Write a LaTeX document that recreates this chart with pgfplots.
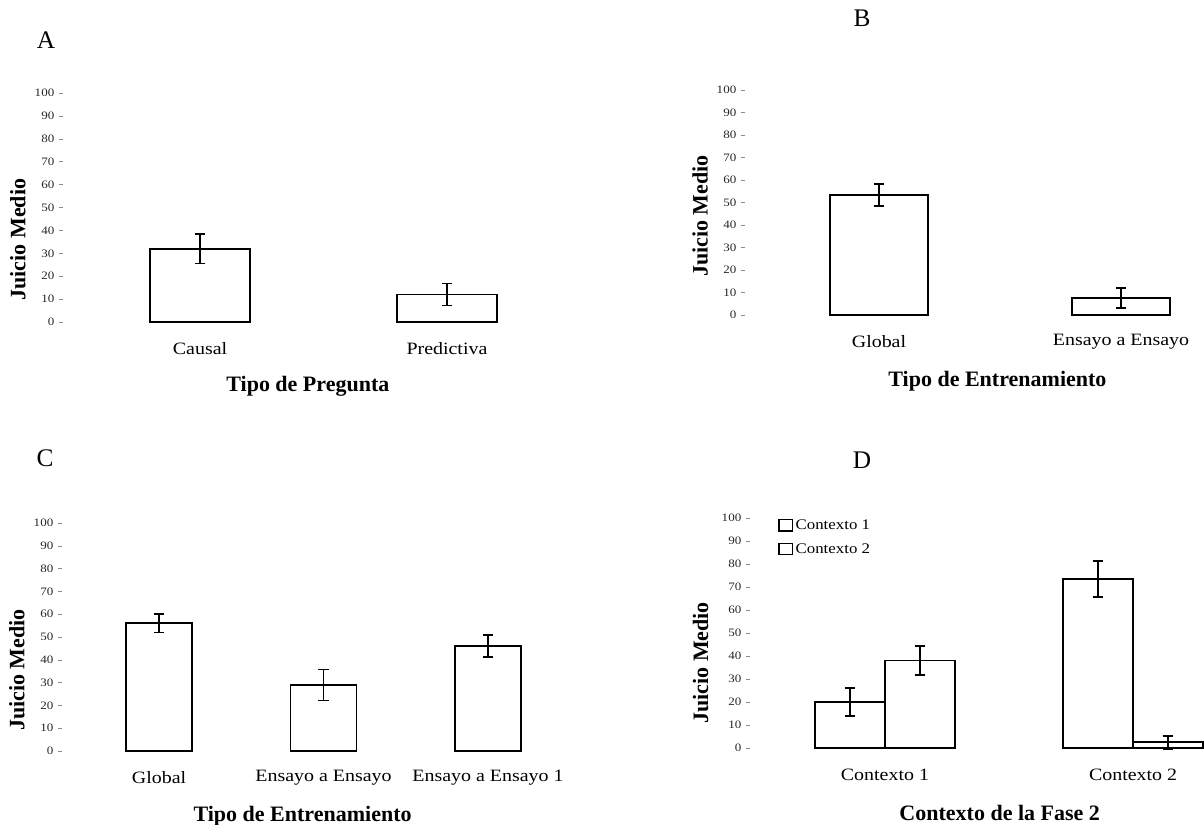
\documentclass[border=0pt]{standalone}
\usepackage{fontspec}
\setmainfont{Liberation Serif}
\newfontfamily\stretchfont[FakeStretch=1.15]{Liberation Serif}
\usepackage{pgfplots}
\pgfplotsset{compat=1.18}
\pgfplotsset{
  panel/.style={
    scale only axis, anchor=south west, clip=false,
    ymin=0, ymax=100, ytick={0,10,...,100},
    axis y line*=left, axis x line*=bottom,
    axis line style={draw=none},
    xtick style={draw=none},
    ytick style={draw=black!45, line width=0.4pt},
    tick align=outside, major tick length=3pt,
    /pgf/number format/assume math mode=true,
    yticklabel style={font=\stretchfont\fontsize{8.5}{9}\selectfont, text=black!85},
    xticklabel style={font=\stretchfont\fontsize{13}{15}\selectfont, anchor=center, yshift=-17pt},
    xlabel style={font=\fontsize{16.5}{18}\selectfont\bfseries, anchor=center},
    ylabel={Juicio Medio},
    ylabel style={font=\fontsize{16.5}{18}\selectfont\bfseries, anchor=center},
    ybar,
  },
  barstyle/.style={draw=black, fill=white, line width=1.3pt,
    /pgfplots/error bars/y dir=both, /pgfplots/error bars/y explicit,
    /pgfplots/error bars/error bar style={line width=1.3pt, black},
    /pgfplots/error bars/error mark options={rotate=90, mark size=4pt, line width=1.3pt, black},
    /pgfplots/legend image code/.code={\draw[black, line width=0.9pt, fill=white] (0pt,-4pt) rectangle (10pt,4.5pt);}},
}
\begin{document}
\begin{tikzpicture}
\path[use as bounding box] (0,0) rectangle (903pt,618.75pt);

% Panel A
\begin{axis}[panel, at={(47.25pt,377.25pt)}, width=390.75pt, height=171.75pt,
  xmin=-0.555, xmax=1.555, bar width=75pt,
  xtick={0,1}, xticklabels={Causal, Predictiva},
  xlabel={Tipo de Pregunta},
  xlabel style={at={(axis description cs:0.47,0)}, yshift=-48pt},
  ylabel style={at={(axis description cs:0,0.36)}, yshift=33.75pt}]
\addplot[barstyle] coordinates {(0,32) +- (0,6.4) (1,12) +- (0,4.8)};
\end{axis}

% Panel B
\begin{axis}[panel, at={(558.75pt,382.5pt)}, width=344.25pt, height=168.75pt,
  xmin=-0.5537, xmax=1.343, bar width=73.5pt,
  xtick={0,1}, xticklabels={Global, Ensayo a Ensayo},
  xlabel={Tipo de Entrenamiento},
  xlabel style={at={(axis description cs:0.55,0)}, yshift=-49.5pt},
  ylabel style={at={(axis description cs:0,0.44)}, yshift=33.75pt}]
\addplot[barstyle] coordinates {(0,53.3) +- (0,4.8) (1,7.6) +- (0,4.5)};
\end{axis}

% Panel C
\begin{axis}[panel, at={(46.5pt,55.5pt)}, width=392.25pt, height=171pt,
  xmin=-0.59, xmax=2.59, bar width=49.5pt,
  xtick={0,1,2}, xticklabels={Global, Ensayo a Ensayo, Ensayo a Ensayo 1},
  xlabel={Tipo de Entrenamiento},
  xlabel style={at={(axis description cs:0.46,0)}, yshift=-48.75pt},
  ylabel style={at={(axis description cs:0,0.355)}, yshift=33.75pt}]
\addplot[barstyle] coordinates {(0,56) +- (0,4) (1,29) +- (0,6.8) (2,46) +- (0,4.8)};
\end{axis}

% Panel D
\begin{axis}[panel, at={(562.5pt,57.75pt)}, width=340.5pt, height=172.5pt,
  xmin=-0.544, xmax=1.286, bar width=52.5pt, ybar=0pt,
  xtick={0,1}, xticklabels={Contexto 1, Contexto 2},
  xlabel={Contexto de la Fase 2},
  xlabel style={at={(axis description cs:0.55,0)}, yshift=-49pt},
  ylabel style={at={(axis description cs:0,0.37)}, yshift=37pt},
  legend style={draw=none, fill=none, at={(axis description cs:0.062,1.005)}, anchor=north west,
    font=\stretchfont\fontsize{11}{13}\selectfont, row sep=5pt, inner sep=0pt},
  legend cell align=left]
\addplot[barstyle] coordinates {(0,20) +- (0,6.2) (1,73.5) +- (0,7.7)};
\addplot[barstyle] coordinates {(0,38) +- (0,6.2) (1,2.5) +- (0,2.8)};
\legend{Contexto 1, Contexto 2}
\end{axis}

\node[font=\fontsize{19}{20}\selectfont] at (34.5pt,589pt) {A};
\node[font=\fontsize{19}{20}\selectfont] at (646.5pt,605.25pt) {B};
\node[font=\fontsize{19}{20}\selectfont] at (33.75pt,275pt) {C};
\node[font=\fontsize{19}{20}\selectfont] at (646.5pt,273.75pt) {D};
\end{tikzpicture}
\end{document}
